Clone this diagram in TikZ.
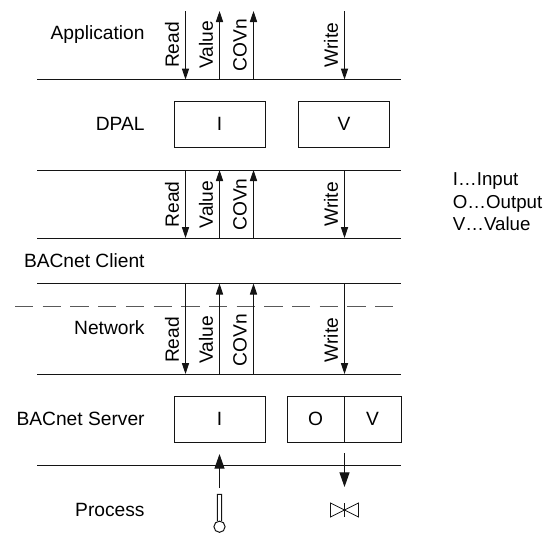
\documentclass[tikz,border=0pt]{standalone}
\usepackage{fontspec}
\setmainfont{Liberation Sans}
\definecolor{ln}{RGB}{20, 20, 20}
\usetikzlibrary{arrows.meta}
\tikzset{
	lbl/.style={inner sep=0pt, font=\fontsize{9.6}{11.5}\selectfont},
	bar/.style={line width=0.5pt, color=ln},
	box/.style={draw=ln, line width=0.5pt, inner sep=0pt, minimum width=45.5pt, minimum height=22.75pt, text depth=0.6pt, font=\fontsize{9.6}{11.5}\selectfont},
	arr/.style={line width=0.5pt, color=ln, -{Triangle[length=5.5pt,width=3.6pt]}},
	bigarr/.style={line width=0.5pt, color=ln, -{Triangle[length=7.3pt,width=5pt]}}
}
\begin{document}
\begin{tikzpicture}[x=0.5pt,y=-0.5pt]
		\useasboundingbox (0, 0) rectangle (544, 532);
		% layer lines
		\foreach \name/\y in {a/79.5, b/170, c/238, d/283.5, e/374, f/465} {
			\coordinate (\name l) at (37, \y);
			\coordinate (\name r) at (401, \y);
			\draw [bar] (\name l) to (\name r);
		}
		\coordinate (dashl) at (15, 306);
		\coordinate (dashr) at (393.5, 306);
		\draw [line width=0.45pt, color=black!65, dash pattern=on 9.15pt off 4.7pt] (dashl) to (dashr);
		% layer names
		\node (app) [lbl, anchor=base east] at (145, 39) {Application};
		\node (dpal) [lbl, anchor=base east] at (145, 130) {DPAL};
		\node (client) [lbl, anchor=base east] at (145, 267) {BACnet Client};
		\node (net) [lbl, anchor=base east] at (145, 334) {Network};
		\node (server) [lbl, anchor=base east] at (145, 425.7) {BACnet Server};
		\node (process) [lbl, anchor=base east] at (145, 516) {Process};
		% boxes
		\node (i1) [box] at (219.5, 124.5) {I};
		\node (v1) [box] at (344, 124.5) {V};
		\node (i2) [box] at (219.5, 419.5) {I};
		\node (o2) [box, minimum width=28.5pt] at (315.5, 419.5) {O};
		\node (v2) [box, minimum width=28.5pt] at (372.5, 419.5) {V};
		% signals
		\foreach \top/\bot/\tag in {11/79.5/a, 170/238/b, 283.5/374/c} {
			\coordinate (rt\tag) at (185.5, \top);
			\coordinate (rb\tag) at (185.5, \bot);
			\coordinate (vt\tag) at (219.5, \top);
			\coordinate (vb\tag) at (219.5, \bot);
			\coordinate (ct\tag) at (253.5, \top);
			\coordinate (cb\tag) at (253.5, \bot);
			\coordinate (wt\tag) at (344.5, \top);
			\coordinate (wb\tag) at (344.5, \bot);
			\draw [arr] (rt\tag) to (rb\tag);
			\draw [arr] (vb\tag) to (vt\tag);
			\draw [arr] (cb\tag) to (ct\tag);
			\draw [arr] (wt\tag) to (wb\tag);
		}
		\foreach \mid/\tag in {45/a, 204.5/b, 340/c} {
			\node (read\tag) [lbl, rotate=90] at (172, \mid) {Read};
			\node (value\tag) [lbl, rotate=90] at (206, \mid) {Value};
			\node (covn\tag) [lbl, rotate=90] at (240, \mid) {COVn};
			\node (write\tag) [lbl, rotate=90] at (331, \mid) {Write};
		}
		% process
		\coordinate (tin) at (219.5, 488);
		\coordinate (tout) at (219.5, 454);
		\coordinate (vin) at (344.5, 453);
		\coordinate (vout) at (344.5, 487);
		\draw [bigarr] (tin) to (tout);
		\draw [bigarr] (vin) to (vout);
		\node (bulb) [circle, draw=ln, line width=0.5pt, minimum size=5.6pt, inner sep=0pt] at (219.5, 526.7) {};
		\draw [line width=0.5pt, color=ln] (bulb.110) -- ++(0, -26.5) -- ++(4.1, 0) -- (bulb.70);
		\coordinate (vc) at (344.5, 510);
		\draw [line width=0.4pt, color=ln] (vc) -- (330.5, 503) -- (330.5, 517) -- cycle;
		\draw [line width=0.4pt, color=ln] (vc) -- (358.5, 503) -- (358.5, 517) -- cycle;
		\draw [line width=0.4pt, color=ln] (344.5, 503) -- (344.5, 517);
		% legend
		\node (leg) [lbl, anchor=north west, align=left, font=\fontsize{9.35}{11.4}\selectfont] at (452.5, 172) {I…Input\\O…Output\\V…Value};
\end{tikzpicture}
\end{document}
